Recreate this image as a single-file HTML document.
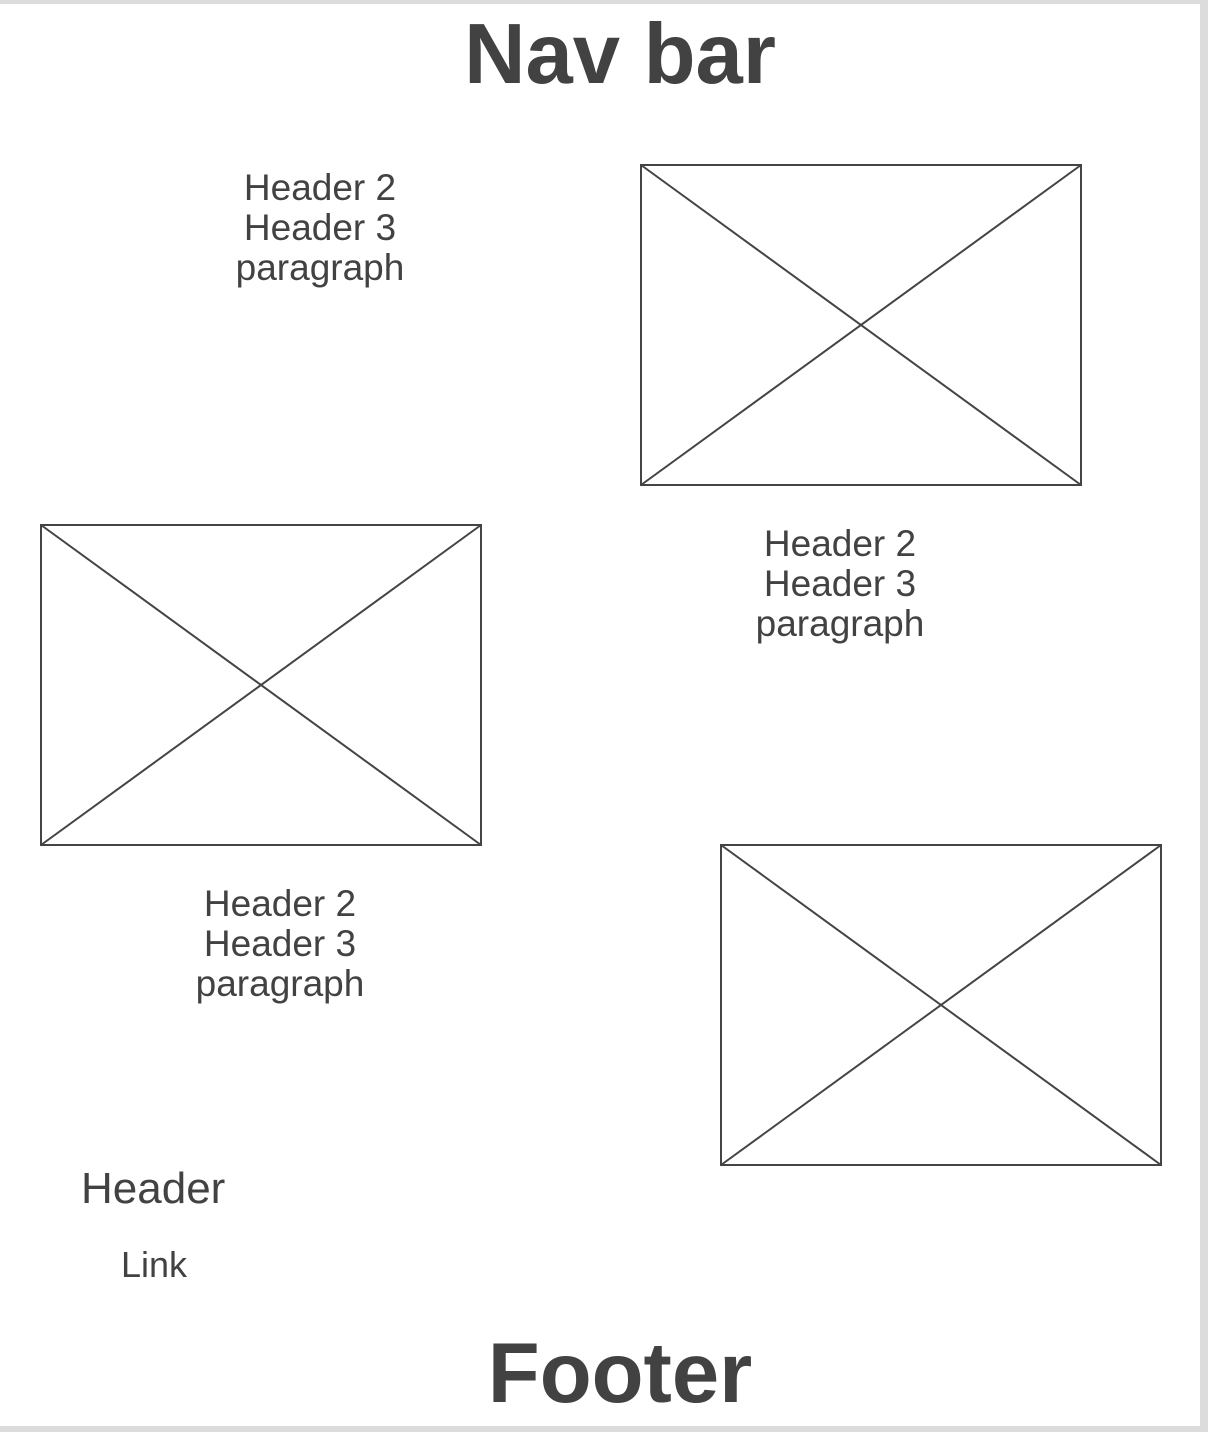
<!DOCTYPE html>
<html><head><meta charset="utf-8"><style>
body{margin:0;width:1208px;height:1432px;background:#dcdcdc;position:relative;overflow:hidden;font-family:"Liberation Sans",sans-serif;color:#424242}
#page{position:absolute;left:0;top:4px;width:1200px;height:1422px;background:#fff}
.t{position:absolute;white-space:nowrap;text-align:center;transform:translateX(-50%)}
.blk{position:absolute;font-size:37px;line-height:40px;text-align:center;transform:translateX(-50%);white-space:nowrap}
svg{position:absolute;left:0;top:0}
</style></head><body>
<div id="page"></div>
<div class="t" style="left:620px;top:7px;font-size:85px;font-weight:bold;line-height:96px">Nav bar</div>
<div class="blk" style="left:320px;top:168px">Header 2<br>Header 3<br>paragraph</div>
<div class="blk" style="left:840px;top:524px">Header 2<br>Header 3<br>paragraph</div>
<div class="blk" style="left:280px;top:884px">Header 2<br>Header 3<br>paragraph</div>
<svg width="1208" height="1432">
<g stroke="#444" stroke-width="2" fill="none">
<rect x="641" y="165" width="440" height="320"/><line x1="641" y1="165" x2="1081" y2="485"/><line x1="1081" y1="165" x2="641" y2="485"/>
<rect x="41" y="525" width="440" height="320"/><line x1="41" y1="525" x2="481" y2="845"/><line x1="481" y1="525" x2="41" y2="845"/>
<rect x="721" y="845" width="440" height="320"/><line x1="721" y1="845" x2="1161" y2="1165"/><line x1="1161" y1="845" x2="721" y2="1165"/>
</g></svg>
<div style="position:absolute;left:81px;top:1164px;font-size:44px;line-height:50px">Header</div>
<div style="position:absolute;left:121px;top:1245px;font-size:36px;line-height:40px">Link</div>
<div class="t" style="left:620px;top:1326px;font-size:85px;font-weight:bold;line-height:96px">Footer</div>
</body></html>
